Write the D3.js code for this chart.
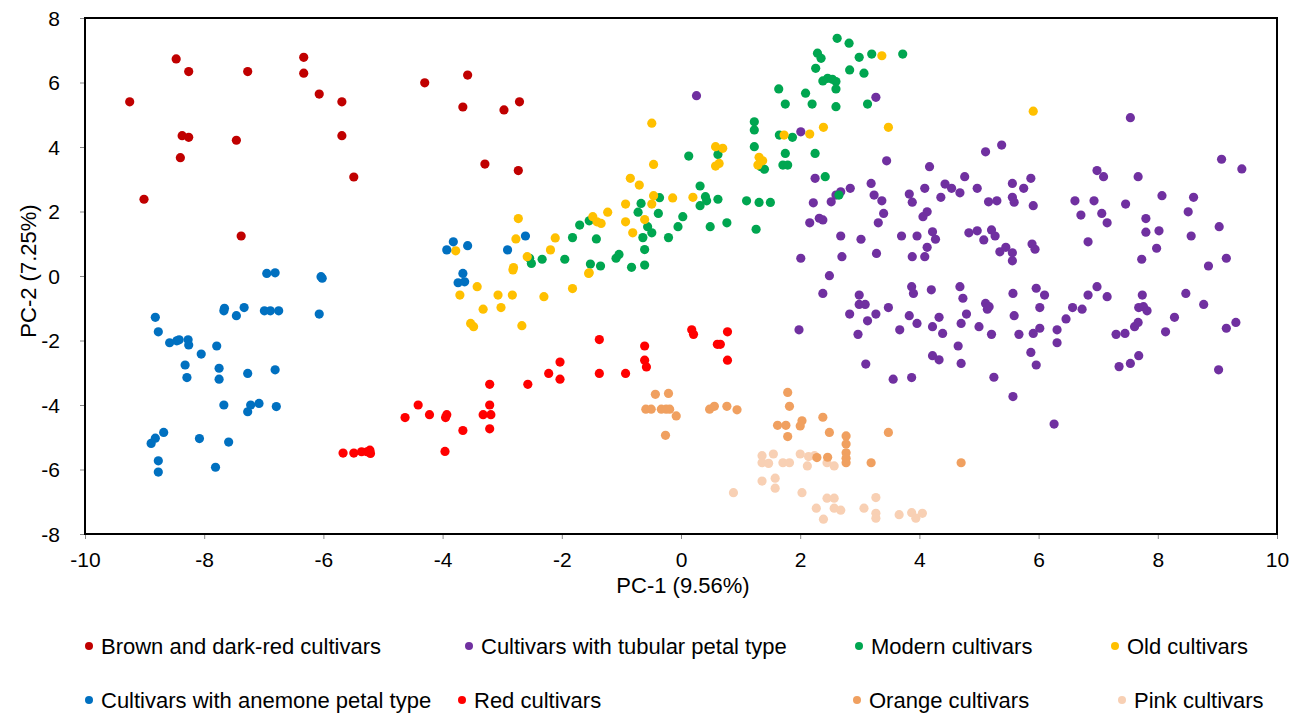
<!DOCTYPE html>
<html><head><meta charset="utf-8">
<script src="https://cdn.jsdelivr.net/npm/d3@7"></script>
<style>body{margin:0;background:#fff}svg{display:block}text{font-family:"Liberation Sans",Arial,sans-serif}</style>
</head><body><svg id="c" width="1297" height="714"></svg>
<script>
// ---- data (PC-1, PC-2) ----
const xTicks = [-10,-8,-6,-4,-2,0,2,4,6,8,10];
const yTicks = [-8,-6,-4,-2,0,2,4,6,8];
const brownDarkRed = [[-8.47,6.73],[-8.26,6.34],[-7.27,6.34],[-6.33,6.78],[-6.33,6.29],[-6.07,5.64],[-5.69,5.40],[-9.25,5.40],[-8.37,4.35],[-8.26,4.30],[-7.46,4.21],[-5.69,4.35],[-8.40,3.67],[-5.49,3.07],[-9.01,2.38],[-7.38,1.24],[-4.30,5.99],[-3.58,6.23],[-3.66,5.24],[-3.29,3.47],[-2.97,5.15],[-2.71,5.40],[-2.73,3.27]];
const tubular = [[0.26,5.59],[2.01,4.47],[2.25,3.03],[2.22,2.27],[2.52,2.30],[2.60,2.51],[2.68,2.61],[2.84,2.72],[2.16,1.65],[2.32,1.79],[2.38,1.74],[2.68,1.24],[2.01,0.55],[2.70,0.60],[2.49,0.01],[3.27,5.54],[3.45,3.57],[4.17,3.39],[5.11,3.85],[5.38,4.06],[7.54,4.91],[9.07,3.62],[9.41,3.32],[3.19,2.87],[3.24,2.51],[3.37,2.33],[3.40,1.94],[3.31,1.65],[3.02,1.14],[3.28,0.70],[3.83,2.54],[3.88,2.29],[4.09,2.72],[4.36,2.44],[4.43,2.85],[4.54,2.72],[4.68,2.58],[4.76,3.08],[4.97,2.72],[5.16,2.30],[5.30,2.33],[5.56,2.87],[5.56,2.44],[5.59,2.29],[5.75,2.72],[5.87,3.03],[5.91,2.18],[4.13,1.99],[4.06,1.84],[3.70,1.24],[3.96,1.24],[4.22,1.37],[4.27,1.14],[4.13,0.89],[4.09,0.60],[3.88,0.60],[4.83,1.34],[4.97,1.40],[5.08,1.12],[5.21,1.43],[5.27,1.24],[5.35,0.75],[5.45,0.89],[5.56,0.72],[5.56,0.47],[5.89,0.99],[5.94,0.83],[6.61,2.33],[6.93,2.33],[6.98,3.27],[7.09,3.08],[6.71,1.89],[7.06,1.94],[7.15,1.65],[7.46,2.23],[7.67,3.08],[6.83,1.06],[7.80,1.78],[7.80,1.36],[8.02,1.40],[8.07,2.49],[7.98,0.86],[7.73,0.52],[8.60,2.44],[8.51,1.99],[8.56,1.24],[9.03,1.53],[9.15,0.55],[8.85,0.31],[2.38,-0.54],[1.98,-1.67],[2.99,-0.59],[2.99,-0.88],[3.09,-0.88],[2.83,-1.18],[2.97,-1.81],[3.13,-1.39],[3.27,-1.18],[3.48,-0.98],[3.10,-2.73],[3.56,-3.20],[3.87,-3.15],[3.67,-1.67],[3.83,-1.23],[3.96,-1.47],[3.87,-0.33],[3.90,-0.54],[4.20,-0.43],[4.33,-1.28],[4.22,-1.57],[4.39,-1.78],[4.22,-2.47],[4.33,-2.60],[4.68,-0.33],[4.73,-0.69],[4.79,-1.18],[4.70,-1.47],[4.65,-2.17],[4.70,-2.71],[5.00,-1.57],[5.11,-0.85],[5.17,-0.95],[5.14,-1.03],[5.21,-1.81],[5.25,-3.14],[5.57,-0.54],[5.59,-1.23],[5.67,-1.81],[5.87,-2.37],[5.96,-2.76],[5.57,-3.74],[5.96,-0.38],[6.10,-0.59],[6.02,-0.98],[5.91,-1.78],[6.02,-1.62],[6.31,-1.67],[6.31,-2.07],[6.26,-4.59],[6.46,-1.33],[6.57,-0.98],[6.73,-1.03],[6.83,-0.59],[6.98,-0.33],[7.15,-0.64],[7.30,-1.81],[7.45,-1.78],[7.35,-2.81],[7.54,-2.71],[7.68,-2.47],[7.74,-0.59],[7.68,-0.98],[7.76,-0.95],[7.82,-1.08],[7.61,-1.57],[7.67,-1.44],[8.13,-1.73],[8.28,-1.28],[8.47,-0.54],[8.77,-0.88],[9.02,-2.91],[9.15,-1.62],[9.31,-1.44]];
const modern = [[-2.54,0.55],[-2.51,0.39],[-2.33,0.52],[-1.95,0.52],[-1.82,1.19],[-1.70,1.58],[-1.54,1.71],[-1.42,1.15],[-1.52,0.37],[-1.35,0.31],[-1.09,0.55],[-1.04,0.67],[-0.83,0.27],[-0.61,0.34],[-0.61,0.82],[-0.64,1.19],[-0.67,2.25],[-0.72,1.98],[-0.56,1.53],[-0.49,1.34],[-0.38,1.94],[-0.36,2.43],[-0.21,1.19],[-0.05,1.53],[0.03,1.84],[0.13,3.72],[0.32,2.79],[0.32,2.18],[0.41,2.46],[0.43,2.33],[0.62,2.38],[0.49,1.53],[0.77,1.65],[0.62,3.77],[1.10,2.33],[1.31,2.28],[1.50,2.28],[1.26,1.45],[1.23,4.78],[1.23,4.53],[1.23,4.01],[1.34,3.39],[1.40,3.31],[1.64,5.80],[1.75,5.33],[1.65,4.37],[1.87,4.30],[1.75,3.80],[1.71,3.44],[1.79,3.44],[2.09,5.67],[2.20,5.33],[2.25,3.80],[2.42,3.08],[2.65,2.51],[2.60,5.25],[2.60,5.80],[2.26,6.44],[2.29,6.91],[2.35,6.75],[2.38,6.05],[2.46,6.13],[2.54,6.10],[2.60,6.03],[2.62,7.37],[2.82,7.22],[2.83,6.39],[2.99,6.78],[3.20,6.88],[3.72,6.88],[3.07,6.29],[3.13,5.33]];
const oldCult = [[-3.71,-0.59],[-3.42,-0.33],[-3.32,-1.03],[-3.53,-1.47],[-3.48,-1.57],[-3.07,-0.59],[-3.02,-0.98],[-2.83,-0.59],[-2.67,-1.54],[-2.30,-0.64],[-1.82,-0.39],[-1.55,0.08],[-2.82,0.19],[-3.78,0.78],[-2.73,1.78],[-2.77,1.15],[-2.58,0.60],[-2.81,0.26],[-2.11,1.18],[-2.19,0.81],[-1.54,0.10],[-1.48,1.84],[-1.41,1.68],[-1.34,1.63],[-1.23,1.98],[-0.93,2.23],[-0.93,1.68],[-0.81,1.34],[-0.61,1.75],[-0.85,3.03],[-0.70,2.82],[-0.49,2.23],[-0.46,2.49],[-0.49,4.74],[-0.46,3.46],[-0.14,2.42],[0.20,2.44],[0.58,4.01],[0.70,3.96],[0.58,3.41],[0.64,3.49],[1.31,3.68],[1.37,3.57],[1.29,3.44],[1.73,4.37],[2.16,4.40],[2.39,4.61],[3.37,6.83],[3.48,4.61],[5.91,5.11]];
const anemone = [[-3.93,0.81],[-3.82,1.06],[-3.58,0.94],[-6.95,0.08],[-6.81,0.10],[-6.04,-0.02],[-6.02,-0.07],[-3.66,0.08],[-3.74,-0.21],[-3.63,-0.18],[-8.82,-1.28],[-8.77,-1.73],[-8.58,-2.07],[-8.46,-2.01],[-8.42,-1.98],[-8.27,-1.98],[-8.26,-2.14],[-7.66,-1.00],[-7.67,-1.08],[-7.46,-1.23],[-7.33,-0.98],[-6.99,-1.08],[-6.89,-1.08],[-6.75,-1.08],[-6.07,-1.18],[-8.05,-2.42],[-7.79,-2.17],[-8.32,-2.76],[-8.29,-3.15],[-7.75,-2.86],[-7.75,-3.20],[-7.27,-3.02],[-6.81,-2.91],[-7.67,-4.00],[-7.27,-4.21],[-7.22,-4.00],[-7.08,-3.95],[-6.79,-4.05],[-8.89,-5.19],[-8.82,-5.03],[-8.68,-4.85],[-8.08,-5.04],[-7.59,-5.15],[-8.77,-5.73],[-8.77,-6.08],[-7.81,-5.93],[-2.91,0.81],[-2.61,1.24]];
const redCult = [[-5.67,-5.49],[-5.49,-5.49],[-5.36,-5.45],[-5.22,-5.40],[-5.21,-5.50],[-5.27,-5.45],[-4.63,-4.39],[-4.41,-4.00],[-4.22,-4.30],[-3.95,-4.39],[-3.93,-4.30],[-3.66,-4.79],[-3.96,-5.44],[-3.21,-3.36],[-3.21,-4.00],[-3.32,-4.30],[-3.19,-4.30],[-3.21,-4.74],[-2.57,-3.36],[-2.22,-3.02],[-2.03,-2.67],[-2.03,-3.20],[-1.37,-1.97],[-1.37,-3.02],[-0.93,-3.02],[-0.61,-2.17],[-0.61,-2.61],[-0.58,-2.82],[0.18,-1.67],[0.21,-1.81],[0.61,-2.12],[0.66,-2.12],[0.78,-1.73],[0.78,-2.61]];
const orangeCult = [[-0.43,-3.67],[-0.21,-3.64],[-0.59,-4.13],[-0.50,-4.13],[-0.33,-4.13],[-0.25,-4.13],[-0.19,-4.13],[-0.08,-4.34],[-0.26,-4.94],[0.48,-4.13],[0.56,-4.04],[0.77,-4.04],[0.94,-4.15],[1.79,-3.61],[1.82,-4.04],[1.62,-4.63],[1.76,-4.63],[1.79,-4.98],[2.03,-4.49],[2.00,-4.65],[2.38,-4.38],[2.49,-4.85],[2.77,-4.96],[2.77,-5.21],[2.77,-5.48],[2.77,-5.65],[2.77,-5.79],[2.28,-5.63],[2.46,-5.62],[3.19,-5.79],[3.48,-4.85],[4.70,-5.79]];
const pinkCult = [[1.36,-5.57],[1.55,-5.52],[1.36,-5.79],[1.47,-5.81],[1.71,-5.79],[1.82,-5.79],[2.00,-5.52],[2.14,-5.60],[2.24,-5.57],[2.12,-5.89],[2.45,-5.79],[2.57,-5.89],[1.36,-6.36],[1.58,-6.27],[1.58,-6.58],[0.88,-6.72],[2.03,-6.72],[2.45,-6.89],[2.57,-6.89],[2.27,-7.20],[2.57,-7.20],[2.68,-7.26],[2.39,-7.54],[3.27,-6.87],[3.07,-7.20],[3.27,-7.36],[3.27,-7.51],[3.66,-7.40],[3.87,-7.34],[3.94,-7.51],[4.05,-7.36]];

const seriesNames = ["Brown and dark-red cultivars","Cultivars with tubular petal type","Modern cultivars","Old cultivars","Cultivars with anemone petal type","Red cultivars","Orange cultivars","Pink cultivars"];
const seriesColors = ["#c00000","#7030a0","#00a650","#ffc000","#0070c0","#ff0000","#f0a060","#f8d0b4"];
const seriesData = [brownDarkRed,tubular,modern,oldCult,anemone,redCult,orangeCult,pinkCult];
const drawOrder = [7,6,1,2,3,5,4,0];

const svg = d3.select("#c");
const L=85,R=1277,T=18,B=534;
const x = d3.scaleLinear().domain([-10,10]).range([L,R]);
const y = d3.scaleLinear().domain([-8,8]).range([B,T]);
const fmt = d => String(d);

// ticks
const xa = svg.append("g").attr("transform",`translate(0,${B})`)
  .call(d3.axisBottom(x).tickValues(xTicks).tickSize(5).tickFormat(fmt));
const ya = svg.append("g").attr("transform",`translate(${L},0)`)
  .call(d3.axisLeft(y).tickValues(yTicks).tickSize(5).tickFormat(fmt));
[xa,ya].forEach(a=>{
  a.select(".domain").remove();
  a.selectAll("line").attr("stroke","#888");
  a.selectAll("text").attr("font-size",21).attr("fill","#000").style("font-family","Liberation Sans, Arial, sans-serif");
});
xa.selectAll("text").attr("y",18).attr("dy","0.71em");
ya.selectAll("text").attr("x",-25).attr("dy","0.35em");

// points
drawOrder.forEach(i=>{
  svg.append("g").selectAll("circle").data(seriesData[i]).join("circle")
    .attr("cx",d=>x(d[0])).attr("cy",d=>y(d[1])).attr("r",4.6)
    .attr("fill",seriesColors[i]);
});

// frame
svg.append("rect").attr("x",L).attr("y",T).attr("width",R-L).attr("height",B-T)
  .attr("fill","none").attr("stroke","#000").attr("stroke-width",2);

// axis titles
svg.append("text").attr("x",(L+R)/2 + 2).attr("y",593).attr("text-anchor","middle")
  .attr("font-size",22).text("PC-1 (9.56%)");
svg.append("text").attr("transform",`translate(36,271) rotate(-90)`).attr("text-anchor","middle")
  .attr("font-size",22).text("PC-2 (7.25%)");

// legend
const legPos = [[89,646],[469,646],[859,646],[1115,646],[89,700],[462,700],[857,700],[1122,700]];
seriesNames.forEach((n,i)=>{
  const g = svg.append("g").attr("transform",`translate(${legPos[i][0]},${legPos[i][1]})`);
  g.append("circle").attr("r",4).attr("fill",seriesColors[i]);
  g.append("text").attr("x",12).attr("dy","0.35em").attr("font-size",22).text(n);
});
</script></body></html>
